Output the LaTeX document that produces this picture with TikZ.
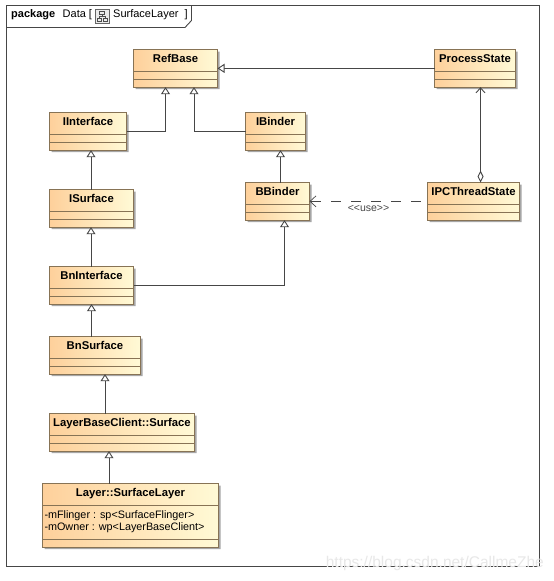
\documentclass[tikz,border=0pt]{standalone}
\usepackage{fontspec}
\setmainfont{Liberation Sans}
\usetikzlibrary{shapes.multipart,arrows.meta,shadows,positioning}
\definecolor{umlline}{RGB}{70,70,70}
\definecolor{umledge}{RGB}{135,115,85}
\definecolor{umlleft}{RGB}{254,208,155}
\definecolor{umlright}{RGB}{255,250,214}

\begin{document}
\begin{tikzpicture}[
  x=1pt, y=-1pt,
  umlclass/.style={rectangle split, rectangle split parts=3, draw=umledge, line width=0.9pt,
    left color=umlleft, right color=umlright, anchor=north west, inner xsep=2pt, inner ysep=0pt, outer sep=0pt,
    rectangle split empty part height=7pt, rectangle split empty part depth=0pt,
    rectangle split part align={center,left,center},
    font=\fontsize{11.3}{12}\selectfont\bfseries,
    drop shadow={shadow xshift=2pt, shadow yshift=-2pt, fill=black!35, opacity=1}},
  gen/.style={-{Triangle[open, length=7pt, width=9pt, fill=white]}, line width=0.9pt, umlline},
  use/.style={-{Straight Barb[length=6pt, width=11pt]}, dash pattern=on 10pt off 10pt, line width=0.7pt, umlline},
  aggr/.style={{Diamond[open, length=12pt, width=6pt, fill=white]}-{Straight Barb[length=5pt, width=9pt]}, line width=0.9pt, umlline},
  note/.style={font=\fontsize{10.5}{12}\selectfont, inner sep=0pt}]

\useasboundingbox (0,0) rectangle (554,581);
\fill[white] (0,0) rectangle (554,581);

% frame
\coordinate (frametl) at (6,5);
\coordinate (framebr) at (539.5,566);
\draw[line width=0.9pt, umlline] (frametl) rectangle (framebr);
\draw[line width=0.9pt, umlline] (6,27.5) -- (185,27.5) -- (191.5,20.5) -- (191.5,5);
\node[anchor=west, inner sep=0pt, font=\fontsize{11}{12}\selectfont\bfseries] (pkg) at (11,14.5) {package};
\node[anchor=west, inner sep=0pt, font=\fontsize{11}{12}\selectfont] (pkgname) at (62.5,14.5) {Data [};
\node[anchor=west, inner sep=0pt, font=\fontsize{11}{12}\selectfont] (pkgdiag) at (113,14.5) {SurfaceLayer};
\node[anchor=west, inner sep=0pt, font=\fontsize{11}{12}\selectfont] (pkgend) at (184.5,14.5) {]};
% diagram icon
\draw[line width=0.6pt, black!60, fill=black!8] (95,9) rectangle (109.5,23);
\draw[line width=0.5pt, black!70] (99.5,11) rectangle (104.5,14.5) (97,18) rectangle (101,21) (103,18) rectangle (107,21)
  (102,14.5) -- (102,16.5) (99,18) -- (99,16.5) -- (105,16.5) -- (105,18);
\node[anchor=east, inner sep=0pt, text=black!9, font=\fontsize{15.5}{16}\selectfont] (watermark) at (544,563) {https://blog.csdn.net/CallmeZhe};

% classes
\node[umlclass, minimum width=84pt] (refbase) at (133.5,49.5) {\rule{0pt}{13pt}RefBase\rule[-8pt]{0pt}{8pt}\nodepart{two}\nodepart{three}};
\node[umlclass, minimum width=81pt] (processstate) at (434.5,49.5) {\rule{0pt}{13pt}ProcessState\rule[-8pt]{0pt}{8pt}\nodepart{two}\nodepart{three}};
\node[umlclass, minimum width=77pt] (iinterface) at (49.5,112.5) {\rule{0pt}{13pt}IInterface\rule[-8pt]{0pt}{8pt}\nodepart{two}\nodepart{three}};
\node[umlclass, minimum width=60pt] (ibinder) at (245.5,112.5) {\rule{0pt}{13pt}IBinder\rule[-8pt]{0pt}{8pt}\nodepart{two}\nodepart{three}};
\node[umlclass, minimum width=64pt] (bbinder) at (245.5,182.5) {\rule{0pt}{13pt}BBinder\rule[-8pt]{0pt}{8pt}\nodepart{two}\nodepart{three}};
\node[umlclass, minimum width=92pt] (ipcthreadstate) at (427.5,182.5) {\rule{0pt}{13pt}IPCThreadState\rule[-8pt]{0pt}{8pt}\nodepart{two}\nodepart{three}};
\node[umlclass, minimum width=84pt] (isurface) at (49.5,189.5) {\rule{0pt}{13pt}ISurface\rule[-8pt]{0pt}{8pt}\nodepart{two}\nodepart{three}};
\node[umlclass, minimum width=84pt] (bninterface) at (49.5,266.5) {\rule{0pt}{13pt}BnInterface\rule[-8pt]{0pt}{8pt}\nodepart{two}\nodepart{three}};
\node[umlclass, minimum width=91pt] (bnsurface) at (49.5,336.5) {\rule{0pt}{13pt}BnSurface\rule[-8pt]{0pt}{8pt}\nodepart{two}\nodepart{three}};
\node[umlclass, minimum width=145pt] (surface) at (49.5,413.5) {\rule{0pt}{13pt}LayerBaseClient::Surface\rule[-8pt]{0pt}{8pt}\nodepart{two}\nodepart{three}};
\node[umlclass, minimum width=176pt] (surfacelayer) at (42.5,483.5) {\rule{0pt}{13pt}Layer::SurfaceLayer\rule[-8pt]{0pt}{8pt}%
  \nodepart{two}\vbox{\fontsize{10.8}{12}\selectfont\mdseries\baselineskip=12pt \hbox{\rule{0pt}{13pt}-mFlinger : sp<SurfaceFlinger>}\hbox{-mOwner : wp<LayerBaseClient>\rule[-8pt]{0pt}{8pt}}}\nodepart{three}};

% connectors
\draw[gen] (processstate.west) -- (refbase.east);
\draw[gen] (iinterface.east) -| ([xshift=-10pt]refbase.south);
\draw[gen] (ibinder.west) -| ([xshift=18.5pt]refbase.south);
\draw[gen] ([xshift=-0.5pt]isurface.north) -- ([xshift=-0.5pt]isurface.north |- iinterface.south);
\draw[gen] ([xshift=-0.5pt]bninterface.north) -- ([xshift=-0.5pt]bninterface.north |- isurface.south);
\draw[gen] ([xshift=-3.5pt]bnsurface.north) -- ([xshift=-3.5pt]bnsurface.north |- bninterface.south);
\draw[gen] ([xshift=-17pt]surface.north) -- ([xshift=-17pt]surface.north |- bnsurface.south);
\draw[gen] ([xshift=-21.5pt]surfacelayer.north) -- ([xshift=-21.5pt]surfacelayer.north |- surface.south);
\draw[gen] ([xshift=3pt]bbinder.north) -- ([xshift=3pt]bbinder.north |- ibinder.south);
\draw[gen] (bninterface.east) -| ([xshift=7pt]bbinder.south);
\draw[aggr] ([xshift=7pt]ipcthreadstate.north) -- ([xshift=7pt]ipcthreadstate.north |- processstate.south);
\draw[use, shorten <=7pt] (ipcthreadstate.west) -- (bbinder.east) node[note, midway, below=4pt] (uselabel) {<{}<use>{}>};
\end{tikzpicture}
\end{document}
